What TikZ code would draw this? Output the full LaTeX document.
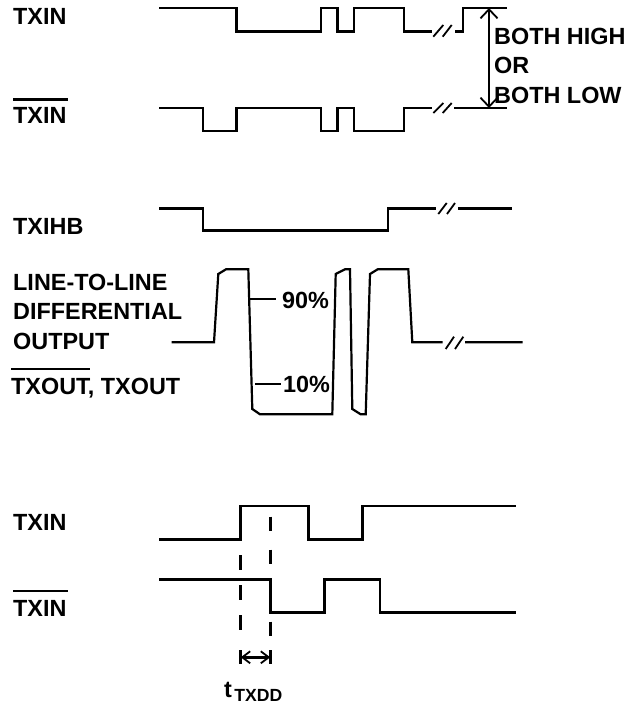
\documentclass[tikz,border=0pt]{standalone}
\usepackage{fontspec}
\setmainfont{Liberation Sans}
\usepackage{tikz}
\usetikzlibrary{arrows.meta}
\tikzset{
	wave/.style={line width=2.7pt,line join=miter},
	slash/.style={line width=1.8pt},
	thinwave/.style={line width=2.2pt},
	lbl/.style={anchor=base west,inner sep=0pt,align=left,font=\fontsize{23.4}{29.5}\selectfont\bfseries},
	bar/.style={line width=2.7pt},
}

\begin{document}
\begin{tikzpicture}[x=1pt,y=-1pt]
	\useasboundingbox (0,0) rectangle (639,706);
	% labels
	\node [lbl] (txina) at (13,25) {TXIN};
	\node [lbl] (txinb) at (13,124) {TXIN};
	\node [lbl] (txihb) at (13,234) {TXIHB};
	\node [lbl] (lineout) at (13,290) {LINE-TO-LINE};
	\node [lbl] (diffout) at (13,319) {DIFFERENTIAL};
	\node [lbl] (outout) at (13,349) {OUTPUT};
	\node [lbl] (txout) at (11,394) {TXOUT, TXOUT};
	\node [lbl] (txinc) at (13,530.7) {TXIN};
	\node [lbl] (txind) at (13,616.7) {TXIN};
	\node [lbl] (high) at (494,45) {BOTH HIGH};
	\node [lbl] (ory) at (494,74) {OR};
	\node [lbl] (low) at (494,104) {BOTH LOW};
	\node [lbl] (ninety) at (282,308) {90\%};
	\node [lbl] (ten) at (283,392) {10\%};
	\node [lbl] (tdd) at (224,697) {t\kern2.5pt\raisebox{-4pt}{\fontsize{17.6}{18}\selectfont TXDD}};
	% bars over the inverted names
	\draw [bar] (13,99.5) -- (68,99.5)
	            (11,369) -- (90,369)
	            (13,591) -- (68,591);
	% upper pair
	\draw [wave] (159,8) -- (236.7,8) -- (236.7,31.5) -- (321,31.5) -- (321,8) -- (337.7,8)
	             -- (337.7,31.5) -- (354,31.5) -- (354,8) -- (404,8) -- (404,31.5) -- (431.7,31.5)
	             (455,31.5) -- (463,31.5) -- (463,8) -- (506.7,8);
	\draw [wave] (159,108) -- (203,108) -- (203,131) -- (236.7,131) -- (236.7,108) -- (321,108)
	             -- (321,131) -- (337.7,131) -- (337.7,108) -- (354,108) -- (354,131) -- (404,131)
	             -- (404,108) -- (431.7,108)
	             (454,108) -- (506.7,108);
	% both high or both low
	\coordinate (hightop) at (489,8);
	\coordinate (lowbot) at (489,108);
	\draw [wave,<->,>={Straight Barb[length=9pt,width=17pt,line width=1.8pt]}] (hightop) -- (lowbot);
	% txihb
	\draw [wave] (159,208.3) -- (203,208.3) -- (203,230.7) -- (388,230.7) -- (388,208.3) -- (436,208.3)
	             (458,208.3) -- (512,208.3);
	% differential output
	\draw [thinwave] (171.7,342.3) -- (214,342.3) -- (218.3,274) -- (226,269.3) -- (248.3,269.3)
	             -- (252.3,409) -- (260,414.3) -- (332.3,414.3) -- (335.7,274) -- (345,269.3)
	             -- (350,269.3) -- (352.3,409) -- (360.7,414.3) -- (365.7,414.3) -- (370,274)
	             -- (377.7,269.3) -- (408.3,269.3) -- (412.3,342.3) -- (442.7,342.3)
	             (465,342.3) -- (522.7,342.3);
	\draw [thinwave] (248,299) -- (276,299);
	\draw [thinwave] (255,384.3) -- (280.7,384.3);
	% break marks
	\foreach \xa/\xb/\ya/\yb in {433.3/443.3/36.7/25,442.7/451.7/36.7/25,
	                             433.3/443.3/113/103,442.7/451.7/113/103,
	                             438.3/446.7/214/203,447/455/214/203,
	                             445.7/454/349/336.7,455/463.3/349/336.7}
		\draw [slash] (\xa,\ya) -- (\xb,\yb);
	% lower pair
	\draw [wave] (159,539.3) -- (240.7,539.3) -- (240.7,506) -- (308.3,506) -- (308.3,539.3)
	             -- (362.3,539.3) -- (362.3,506) -- (515.7,506);
	\draw [wave] (159,579.3) -- (270.3,579.3) -- (270.3,612.3) -- (324.7,612.3) -- (324.7,579.3)
	             -- (380,579.3) -- (380,612.3) -- (515.7,612.3);
	% delay marks
	\draw [wave,dash pattern=on 15pt off 15pt] (240.7,555) -- (240.7,630);
	\draw [wave,dash pattern=on 14pt off 19pt on 14pt off 58pt] (270.3,516.7) -- (270.3,636);
	\coordinate (delayl) at (240.7,657.3);
	\coordinate (delayr) at (270.3,657.3);
	\draw [wave,<->,>={Straight Barb[length=8pt,width=12pt,line width=1.8pt]}] (delayl) -- (delayr);
	\draw [wave] (240.7,650) -- (240.7,664)
	             (270.3,650) -- (270.3,664);
\end{tikzpicture}
\end{document}
